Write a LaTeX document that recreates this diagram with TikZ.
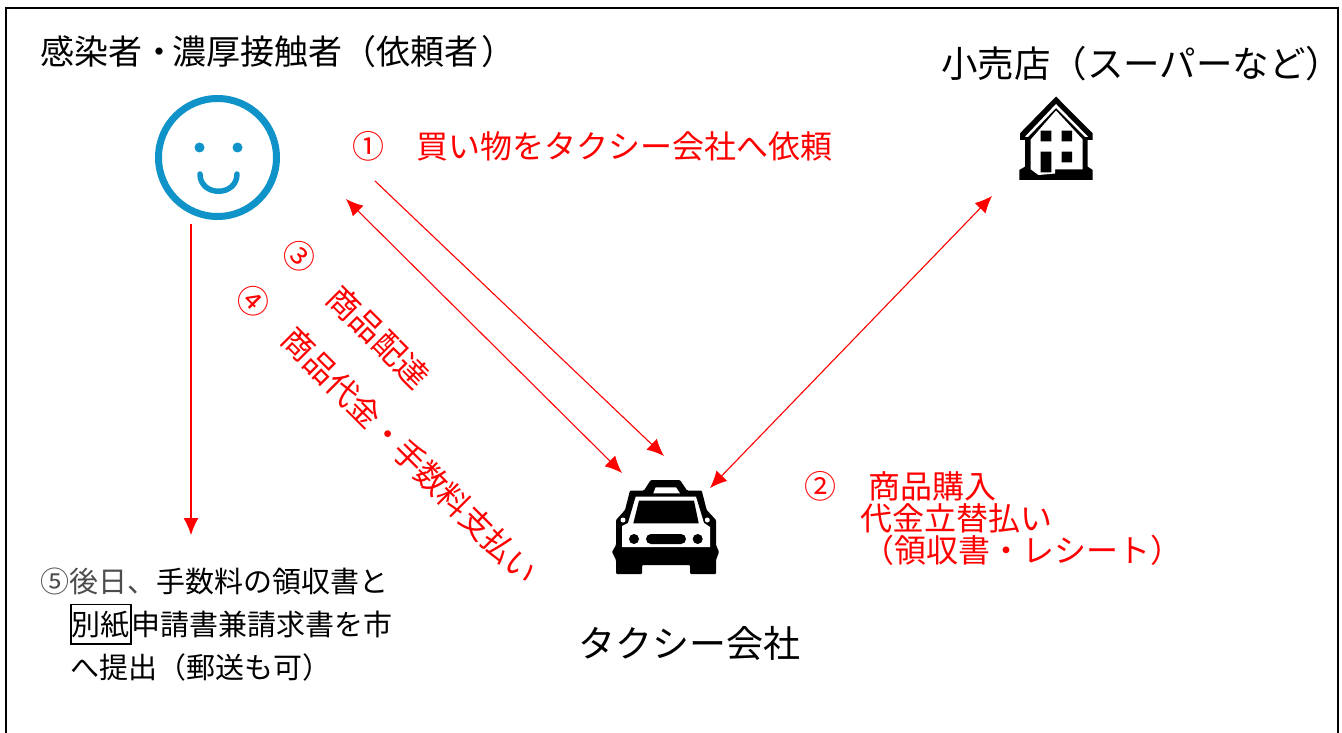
\documentclass[tikz,border=0pt]{standalone}
\usepackage{fontspec}
\setmainfont{Noto Sans CJK JP}
\usetikzlibrary{arrows.meta}
\definecolor{smileblue}{HTML}{0F93C8}
\tikzset{x=1pt,y=-1pt,
    every node/.style={inner sep=0pt,outer sep=0pt},
    title/.style={anchor=west,font=\fontsize{34}{34}\selectfont},
    redlabel/.style={anchor=west,text=red,font=\fontsize{32}{32}\selectfont},
    slanted/.style={text=red,rotate=-45,font=\fontsize{32}{32}\selectfont},
    flow/.style={draw=red,line width=1.1pt,-{Latex[length=17pt,width=15pt]}},
    twoway/.style={draw=red,line width=1.1pt,{Latex[length=17pt,width=15pt]}-{Latex[length=17pt,width=15pt]}},
    smile/.style={draw=smileblue,line width=5.5pt,line cap=round}}

\begin{document}
\begin{tikzpicture}
    \useasboundingbox (0,0) rectangle (1342,733);
    \draw[line width=1.5pt] (6,733) -- (6,8) -- (1338,8) -- (1338,733);

    % smiley
    \node[circle,draw=smileblue,line width=7pt,minimum size=118pt] (face) at (217.5,157.5) {};
    \fill[smileblue] (199.5,147.5) circle (5) (237.5,147.5) circle (5);
    \draw[smile] (200,174) .. controls (200,197) and (237,197) .. (237,174);

    % house
    \fill (1056,96.5) -- (1092.7,133.3) -- (1092.7,140) -- (1087.7,140) -- (1087.7,166.7)
        -- (1092.7,170) -- (1092.7,180) -- (1019.3,180) -- (1019.3,170) -- (1025,166.7)
        -- (1025,140) -- (1020,140) -- (1020,133.3) -- cycle;
    \fill[white] (1025,136.7) -- (1056,104) -- (1088,136.7) -- (1085,137) -- (1056,108) -- (1028,137) -- cycle;
    \fill[white] (1030.7,139.5) -- (1056,110.5) -- (1082.7,139.5) -- (1082.7,169.3) -- (1055,169.3)
        -- (1055,173.5) -- (1038.5,175) -- (1030.7,169.3) -- cycle;
    \fill (1040.7,130.7) rectangle (1051.3,141.3) (1061.7,130.7) rectangle (1072,141.3)
        (1040.7,151.7) rectangle (1051.3,172.3) (1061.7,151.7) rectangle (1072,162.3);
    \coordinate (shop) at (992,196);

    % taxi
    \fill[rounded corners=1pt] (650.7,480) -- (680,480) -- (687,490.5) -- (701.7,490.5) -- (706.7,510)
        -- (716,520) -- (716,545) -- (719,552) -- (716,560) -- (716,574) -- (690,574) -- (690,565)
        -- (642,565) -- (642,574) -- (616,574) -- (616,560) -- (612,552) -- (616,545) -- (616,520)
        -- (625,510) -- (630,490.5) -- (644,490.5) -- cycle;
    \fill[white] (655.7,487.3) -- (676,487.3) -- (680,493.3) -- (653.3,493.3) -- cycle;
    \fill[white] (635.7,496.7) -- (696,496.7) -- (704,523) -- (710,527) -- (710,547) -- (622,547)
        -- (622,526) -- (628,523) -- cycle;
    \fill (639,500.7) -- (694,500.7) -- (698.7,523.3) -- (633.3,523.3) -- cycle;
    \fill (634,539) circle (5) (697.7,539) circle (5);
    \fill[rounded corners=5pt] (646,534) rectangle (686,544);
    \fill[white] (623,520) circle (2.5) (707.3,520) circle (2.5);
    \coordinate (cabA) at (664,456);
    \coordinate (cabB) at (622,473);
    \coordinate (cabC) at (710,488);

    % texts
    \node[title] (client) at (40,52) {感染者・\kern-4pt濃厚接触者（依頼者\kern4pt）};
    \node[title,font=\fontsize{36.5}{36.5}\selectfont] (store) at (941,64) {小売店（スーパーなど）};
    \node[title,font=\fontsize{37}{37}\selectfont] (company) at (578,643) {タクシー会社};
    \node[redlabel] (ask) at (352,146) {①　買い物をタクシー会社へ依頼};
    \node[redlabel,align=left,font=\fontsize{32}{32}\selectfont] (buy) at (804,518)
        {②　商品購入\\\hspace{56pt}代金立替払い\\\hspace{58pt}（領収書・レシート）};
    \node[slanted] (three) at (299,256.5) {③};
    \node[slanted] (four) at (253.5,301.5) {④};
    \node[slanted] (deliver) at (378.7,337) {商品配達};
    \node[slanted,font=\fontsize{31.5}{32}\selectfont] (pay) at (410,456) {商品代金・手数料支払い};
    \node[anchor=north west,align=left,font=\fontsize{29}{43}\selectfont] (later) at (40,568)
        {{\color{black!70}⑤後日、}手数料の領収書と\\\hspace{30pt}\fboxsep=0.5pt\fboxrule=1.5pt\fbox{\rule[-7pt]{0pt}{37pt}別紙}申請書兼請求書を市\\\hspace{30pt}へ提出（郵送も可）};

    % arrows
    \coordinate (askstart) at (375,181);
    \coordinate (facea) at (346,199);
    \coordinate (faceb) at (191,224);
    \coordinate (laterin) at (191,535);
    \draw[flow] (askstart) -- (cabA);
    \draw[twoway] (facea) -- (cabB);
    \draw[twoway] (shop) -- (cabC);
    \draw[flow] (faceb) -- (laterin);
\end{tikzpicture}
\end{document}
